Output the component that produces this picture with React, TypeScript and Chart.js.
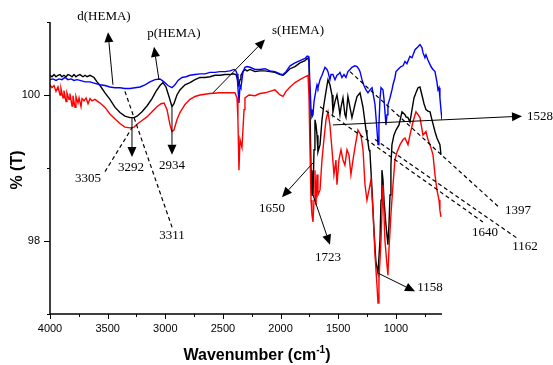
import React, { useEffect, useRef } from "react";
import { Chart, registerables } from "chart.js";

Chart.register(...registerables);

// ---------------- DATA ----------------
// Black spectrum
const blackWn = [4000, 3983, 3965, 3948, 3931, 3913, 3896, 3879, 3861, 3844, 3827, 3809, 3792, 3775, 3757, 3740, 3714, 3696, 3679, 3653, 3618, 3592, 3566, 3523, 3480, 3436, 3393, 3350, 3306, 3271, 3245, 3202, 3159, 3115, 3081, 3046, 3020, 2994, 2968, 2942, 2925, 2899, 2873, 2829, 2786, 2742, 2699, 2656, 2612, 2569, 2526, 2482, 2439, 2413, 2387, 2378, 2370, 2361, 2352, 2344, 2326, 2309, 2291, 2265, 2222, 2179, 2135, 2092, 2049, 2005, 1979, 1962, 1918, 1875, 1832, 1788, 1771, 1762, 1754, 1745, 1736, 1728, 1719, 1710, 1702, 1693, 1684, 1676, 1658, 1641, 1624, 1606, 1589, 1572, 1554, 1546, 1528, 1511, 1494, 1485, 1476, 1459, 1442, 1433, 1416, 1398, 1381, 1355, 1337, 1311, 1285, 1259, 1251, 1233, 1225, 1207, 1190, 1173, 1155, 1138, 1129, 1121, 1112, 1103, 1086, 1069, 1060, 1051, 1043, 1034, 1017, 999, 973, 947, 921, 912, 895, 878, 860, 843, 826, 808, 791, 774, 756, 739, 722, 704, 687, 661, 644, 618, 609];
const blackT = [100.27, 100.25, 100.28, 100.25, 100.27, 100.28, 100.25, 100.27, 100.25, 100.28, 100.27, 100.25, 100.28, 100.25, 100.27, 100.28, 100.25, 100.27, 100.25, 100.27, 100.24, 100.18, 100.13, 100.03, 99.94, 99.83, 99.76, 99.71, 99.69, 99.69, 99.71, 99.77, 99.85, 99.95, 100.05, 100.13, 100.17, 100.11, 99.98, 99.84, 99.88, 100.0, 100.07, 100.14, 100.17, 100.21, 100.24, 100.24, 100.25, 100.27, 100.27, 100.28, 100.28, 100.29, 100.28, 100.24, 100.18, 100.14, 100.21, 100.27, 100.32, 100.35, 100.33, 100.35, 100.32, 100.33, 100.33, 100.32, 100.31, 100.28, 100.27, 100.29, 100.36, 100.39, 100.44, 100.47, 100.5, 100.5, 100.46, 99.8, 98.97, 98.63, 98.63, 99.25, 99.66, 99.59, 99.45, 99.22, 99.32, 99.66, 99.87, 100.05, 100.21, 100.14, 100.0, 99.77, 99.91, 100.0, 99.83, 99.73, 99.83, 99.96, 99.73, 99.69, 99.98, 99.83, 99.69, 99.87, 99.98, 100.03, 99.83, 99.52, 99.45, 99.25, 99.22, 98.7, 98.15, 97.71, 97.56, 98.01, 98.56, 98.97, 98.84, 98.56, 98.22, 97.95, 98.22, 98.63, 99.04, 99.32, 99.45, 99.52, 99.59, 99.77, 99.73, 99.7, 99.69, 99.63, 99.8, 99.96, 100.03, 100.1, 100.11, 100.0, 99.88, 99.8, 99.78, 99.77, 99.66, 99.5, 99.41, 99.32, 99.18];

// Blue spectrum
const blueWn = [4000, 3974, 3948, 3922, 3896, 3870, 3844, 3818, 3792, 3766, 3740, 3696, 3653, 3610, 3566, 3523, 3480, 3436, 3393, 3350, 3306, 3263, 3219, 3176, 3133, 3089, 3046, 3011, 2977, 2942, 2916, 2890, 2855, 2820, 2786, 2742, 2699, 2656, 2612, 2569, 2526, 2482, 2439, 2404, 2387, 2378, 2370, 2361, 2352, 2344, 2335, 2326, 2309, 2291, 2265, 2222, 2179, 2135, 2092, 2049, 2005, 1979, 1953, 1918, 1875, 1832, 1788, 1771, 1762, 1754, 1745, 1736, 1728, 1719, 1710, 1693, 1684, 1676, 1658, 1641, 1615, 1598, 1589, 1572, 1563, 1546, 1528, 1511, 1494, 1485, 1468, 1450, 1433, 1416, 1398, 1381, 1355, 1337, 1320, 1311, 1294, 1277, 1259, 1242, 1225, 1207, 1181, 1164, 1155, 1147, 1138, 1129, 1121, 1112, 1103, 1086, 1077, 1069, 1051, 1034, 1025, 1008, 999, 982, 956, 938, 921, 904, 878, 860, 834, 808, 791, 774, 765, 748, 739, 722, 696, 678, 661, 644, 635, 626, 618, 609, 600];
const blueT = [100.21, 100.22, 100.2, 100.22, 100.21, 100.24, 100.21, 100.22, 100.2, 100.21, 100.2, 100.18, 100.18, 100.16, 100.14, 100.13, 100.11, 100.1, 100.1, 100.09, 100.09, 100.1, 100.11, 100.14, 100.18, 100.21, 100.22, 100.18, 100.13, 100.1, 100.14, 100.2, 100.24, 100.25, 100.27, 100.28, 100.29, 100.29, 100.31, 100.31, 100.32, 100.32, 100.33, 100.35, 100.33, 100.29, 100.1, 99.89, 100.13, 100.1, 100.21, 100.32, 100.38, 100.39, 100.38, 100.35, 100.35, 100.36, 100.33, 100.32, 100.29, 100.28, 100.32, 100.4, 100.44, 100.47, 100.5, 100.53, 100.53, 100.48, 100.14, 99.8, 99.7, 99.73, 99.91, 100.07, 100.14, 100.1, 100.21, 100.27, 100.38, 100.35, 100.32, 100.21, 100.28, 100.28, 100.21, 100.27, 100.29, 100.31, 100.24, 100.28, 100.24, 100.32, 100.35, 100.38, 100.4, 100.39, 100.35, 100.32, 100.21, 100.13, 100.07, 100.03, 100.07, 100.1, 99.87, 99.52, 99.32, 99.59, 99.94, 100.1, 100.1, 100.07, 99.94, 99.59, 99.73, 99.87, 99.96, 100.07, 100.14, 100.24, 100.32, 100.35, 100.39, 100.4, 100.46, 100.43, 100.53, 100.51, 100.62, 100.66, 100.69, 100.65, 100.58, 100.51, 100.55, 100.48, 100.39, 100.35, 100.32, 100.18, 100.07, 100.1, 99.96, 99.8, 99.66];

// Red spectrum
const redWn = [4000, 3983, 3965, 3948, 3931, 3913, 3905, 3887, 3879, 3861, 3853, 3835, 3827, 3809, 3801, 3783, 3775, 3757, 3748, 3731, 3722, 3705, 3687, 3670, 3653, 3636, 3610, 3584, 3566, 3523, 3480, 3436, 3393, 3350, 3306, 3271, 3237, 3202, 3159, 3115, 3072, 3037, 3011, 2985, 2959, 2942, 2925, 2899, 2873, 2829, 2786, 2742, 2699, 2612, 2526, 2439, 2396, 2378, 2370, 2361, 2352, 2335, 2317, 2309, 2274, 2222, 2179, 2135, 2092, 2049, 2005, 1979, 1953, 1918, 1875, 1832, 1788, 1762, 1754, 1745, 1736, 1728, 1719, 1710, 1702, 1693, 1684, 1676, 1658, 1641, 1624, 1606, 1589, 1572, 1554, 1537, 1520, 1511, 1494, 1476, 1459, 1442, 1424, 1407, 1390, 1372, 1355, 1329, 1303, 1285, 1268, 1251, 1233, 1216, 1199, 1181, 1164, 1155, 1147, 1129, 1112, 1095, 1077, 1069, 1060, 1043, 1025, 1008, 990, 964, 938, 921, 895, 878, 852, 826, 808, 791, 765, 739, 722, 704, 678, 661, 644, 626, 618, 609];
const redT = [100.14, 100.1, 100.13, 100.05, 100.11, 100.0, 100.09, 99.96, 100.06, 99.91, 100.03, 99.94, 100.02, 99.85, 99.99, 99.83, 99.98, 99.89, 99.96, 99.84, 99.95, 99.92, 99.96, 99.88, 99.95, 99.92, 99.94, 99.91, 99.89, 99.83, 99.74, 99.67, 99.61, 99.56, 99.55, 99.56, 99.61, 99.65, 99.7, 99.77, 99.84, 99.88, 99.89, 99.8, 99.59, 99.5, 99.52, 99.66, 99.76, 99.87, 99.94, 99.98, 100.0, 100.02, 100.03, 100.03, 100.03, 99.96, 99.66, 98.97, 99.39, 99.28, 99.8, 99.96, 100.0, 99.99, 100.02, 100.03, 100.05, 100.07, 100.0, 99.98, 100.05, 100.11, 100.17, 100.21, 100.25, 100.27, 100.0, 99.25, 98.56, 98.36, 98.26, 98.56, 98.97, 98.49, 98.91, 98.63, 98.7, 99.11, 99.39, 99.66, 99.77, 99.59, 99.25, 98.91, 99.11, 98.77, 99.11, 99.25, 99.11, 99.04, 99.25, 99.18, 98.91, 99.11, 99.28, 99.52, 99.45, 99.25, 98.77, 98.56, 98.7, 98.84, 98.42, 97.81, 97.39, 97.15, 97.46, 98.01, 98.77, 98.01, 97.67, 97.53, 97.88, 98.36, 98.77, 99.11, 99.22, 99.32, 99.39, 99.41, 99.32, 99.45, 99.63, 99.77, 99.73, 99.69, 99.45, 99.5, 99.39, 99.32, 99.18, 98.91, 98.7, 98.56, 98.42, 98.33];

// Axes
const xMin = 600;
const xMax = 4000;
const yMin = 97;
const yMax = 101;
const xMajorTicks = [4000, 3500, 3000, 2500, 2000, 1500, 1000];
const xMinorTicks = [3750, 3250, 2750, 2250, 1750, 1250, 750];
const yMajorTicks = [98, 100];
const yMinorTicks = [97, 99, 101];

const xTitle = "Wavenumber (cm";
const xTitleSup = "-1";
const yTitle = "% (T)";

// Annotation labels (wavenumber, %T anchor)
const labelTexts = ["d(HEMA)", "p(HEMA)", "s(HEMA)", "3292", "2934", "3305", "3311", "1650", "1723", "1158", "1528", "1397", "1640", "1162"];
const labelWn = [3532, 2925, 1849, 3298, 2942, 3670, 2942, 2075, 1589, 704, -250, -59, 227, -120];
const labelT = [101.08, 100.84, 100.88, 99.0, 99.04, 98.86, 98.07, 98.45, 97.77, 97.36, 99.71, 98.41, 98.11, 97.93];

// Annotation connectors: from (wn,T) to (wn,T); kind: arrow (filled head at end) or dashed
const connKind = ["arrow", "arrow", "arrow", "arrow", "arrow", "dash", "dash", "arrow", "arrow", "arrow", "arrow", "dash", "dash", "dash"];
const connFromWn = [3454, 3055, 2586, 3289, 2942, 3523, 3350, 1719, 1719, 1155, 1546, 1398, 1658, 1181];
const connFromT = [100.14, 100.21, 100.03, 99.69, 99.83, 98.95, 100.05, 99.07, 98.63, 97.56, 99.59, 100.32, 99.84, 99.39];
const connToWn = [3497, 3098, 2135, 3289, 2942, 3289, 2933, 1988, 1572, 834, -94, 97, 245, -50];
const connToT = [100.86, 100.66, 100.76, 99.15, 99.18, 99.55, 98.15, 98.6, 97.95, 97.31, 99.71, 98.45, 98.26, 98.04];

const zip = (xs: number[], ys: number[]) => xs.map((x, i) => ({ x, y: ys[i] }));

const overlayPlugin = {
  id: "overlay",
  afterDraw(chart: any) {
    const { ctx, chartArea: ca } = chart;
    const xs = chart.scales.x;
    const ys = chart.scales.y;
    const px = (v: number) => xs.getPixelForValue(v);
    const py = (v: number) => ys.getPixelForValue(v);
    ctx.save();
    ctx.strokeStyle = "#000";
    ctx.fillStyle = "#000";
    // axes lines
    ctx.lineWidth = 1.5;
    ctx.beginPath();
    ctx.moveTo(ca.left, ca.top);
    ctx.lineTo(ca.left, ca.bottom);
    ctx.lineTo(ca.right, ca.bottom);
    ctx.stroke();
    ctx.lineWidth = 1;
    ctx.beginPath();
    xMajorTicks.forEach((v) => {
      const x = Math.round(px(v)) + 0.5;
      ctx.moveTo(x, ca.bottom);
      ctx.lineTo(x, ca.bottom + 5);
    });
    xMinorTicks.forEach((v) => {
      const x = Math.round(px(v)) + 0.5;
      ctx.moveTo(x, ca.bottom);
      ctx.lineTo(x, ca.bottom + 3);
    });
    yMajorTicks.forEach((v) => {
      const y = Math.round(py(v)) + 0.5;
      ctx.moveTo(ca.left, y);
      ctx.lineTo(ca.left - 6, y);
    });
    yMinorTicks.forEach((v) => {
      const y = Math.round(py(v)) + 0.5;
      ctx.moveTo(ca.left, y);
      ctx.lineTo(ca.left - 3, y);
    });
    ctx.stroke();

    // titles
    ctx.textBaseline = "middle";
    ctx.font = 'bold 16px "Liberation Sans", Arial, sans-serif';
    const mainW = ctx.measureText(xTitle).width;
    ctx.font = 'bold 10px "Liberation Sans", Arial, sans-serif';
    const supW = ctx.measureText(xTitleSup).width;
    ctx.font = 'bold 16px "Liberation Sans", Arial, sans-serif';
    const closeW = ctx.measureText(")").width;
    const total = mainW + supW + closeW;
    const cx = (ca.left + ca.right) / 2 + 11;
    let tx = cx - total / 2;
    const ty = ca.bottom + 42;
    ctx.textAlign = "left";
    ctx.fillText(xTitle, tx, ty);
    tx += mainW;
    ctx.font = 'bold 10px "Liberation Sans", Arial, sans-serif';
    ctx.fillText(xTitleSup, tx, ty - 6);
    tx += supW;
    ctx.font = 'bold 16px "Liberation Sans", Arial, sans-serif';
    ctx.fillText(")", tx, ty);

    ctx.save();
    ctx.translate(18, (ca.top + ca.bottom) / 2 + 2);
    ctx.rotate(-Math.PI / 2);
    ctx.textAlign = "center";
    ctx.fillText(yTitle, 0, 0);
    ctx.restore();

    // connectors
    connKind.forEach((kind, i) => {
      const x1 = px(connFromWn[i]);
      const y1 = py(connFromT[i]);
      const x2 = px(connToWn[i]);
      const y2 = py(connToT[i]);
      ctx.beginPath();
      if (kind === "dash") {
        ctx.setLineDash([4, 3]);
        ctx.lineWidth = 1.2;
        ctx.moveTo(x1, y1);
        ctx.lineTo(x2, y2);
        ctx.stroke();
        ctx.setLineDash([]);
      } else {
        const ang = Math.atan2(y2 - y1, x2 - x1);
        const len = 10;
        const hw = 4.5;
        const bx = x2 - len * Math.cos(ang);
        const by = y2 - len * Math.sin(ang);
        ctx.lineWidth = 1;
        ctx.moveTo(x1, y1);
        ctx.lineTo(bx, by);
        ctx.stroke();
        ctx.beginPath();
        ctx.moveTo(x2, y2);
        ctx.lineTo(bx + hw * Math.sin(ang), by - hw * Math.cos(ang));
        ctx.lineTo(bx - hw * Math.sin(ang), by + hw * Math.cos(ang));
        ctx.closePath();
        ctx.fill();
      }
    });

    // labels
    ctx.font = '13px "Liberation Serif", "Times New Roman", serif';
    ctx.textAlign = "center";
    ctx.textBaseline = "middle";
    labelTexts.forEach((t, i) => {
      ctx.fillText(t, px(labelWn[i]), py(labelT[i]));
    });
    ctx.restore();
  },
};

export default function App() {
  const ref = useRef<HTMLCanvasElement | null>(null);
  useEffect(() => {
    document.body.style.margin = "0";
    const canvas = ref.current;
    if (!canvas) return;
    const chart = new Chart(canvas, {
      type: "line",
      data: {
        datasets: [
          { label: "red", data: zip(redWn, redT), borderColor: "#ff0000", borderWidth: 1.4, pointRadius: 0, tension: 0, fill: false },
          { label: "blue", data: zip(blueWn, blueT), borderColor: "#0000ff", borderWidth: 1.4, pointRadius: 0, tension: 0, fill: false },
          { label: "black", data: zip(blackWn, blackT), borderColor: "#000000", borderWidth: 1.4, pointRadius: 0, tension: 0, fill: false },
        ],
      },
      options: {
        responsive: false,
        animation: false,
        devicePixelRatio: 1,
        events: [],
        layout: { padding: { left: 0, right: 111, top: 22, bottom: 0 } },
        plugins: { legend: { display: false }, tooltip: { enabled: false }, title: { display: false } },
        scales: {
          x: {
            type: "linear",
            reverse: true,
            min: xMin,
            max: xMax,
            border: { display: false },
            grid: { display: false, drawTicks: false },
            afterBuildTicks: (s: any) => {
              s.ticks = xMajorTicks.map((v) => ({ value: v }));
            },
            afterFit: (s: any) => {
              s.height = 51;
            },
            ticks: {
              padding: 8,
              color: "#000",
              autoSkip: false,
              maxRotation: 0,
              callback: (v: any) => String(v),
              font: { family: '"Liberation Sans", Arial, sans-serif', size: 11 },
            },
          },
          y: {
            type: "linear",
            min: yMin,
            max: yMax,
            border: { display: false },
            grid: { display: false, drawTicks: false },
            afterBuildTicks: (s: any) => {
              s.ticks = yMajorTicks.map((v) => ({ value: v }));
            },
            afterFit: (s: any) => {
              s.width = 50;
            },
            ticks: {
              padding: 10,
              color: "#000",
              callback: (v: any) => String(v),
              font: { family: '"Liberation Sans", Arial, sans-serif', size: 11 },
            },
          },
        },
      },
      plugins: [overlayPlugin],
    });
    return () => chart.destroy();
  }, []);
  return <canvas ref={ref} width={553} height={365} style={{ display: "block" }} />;
}
